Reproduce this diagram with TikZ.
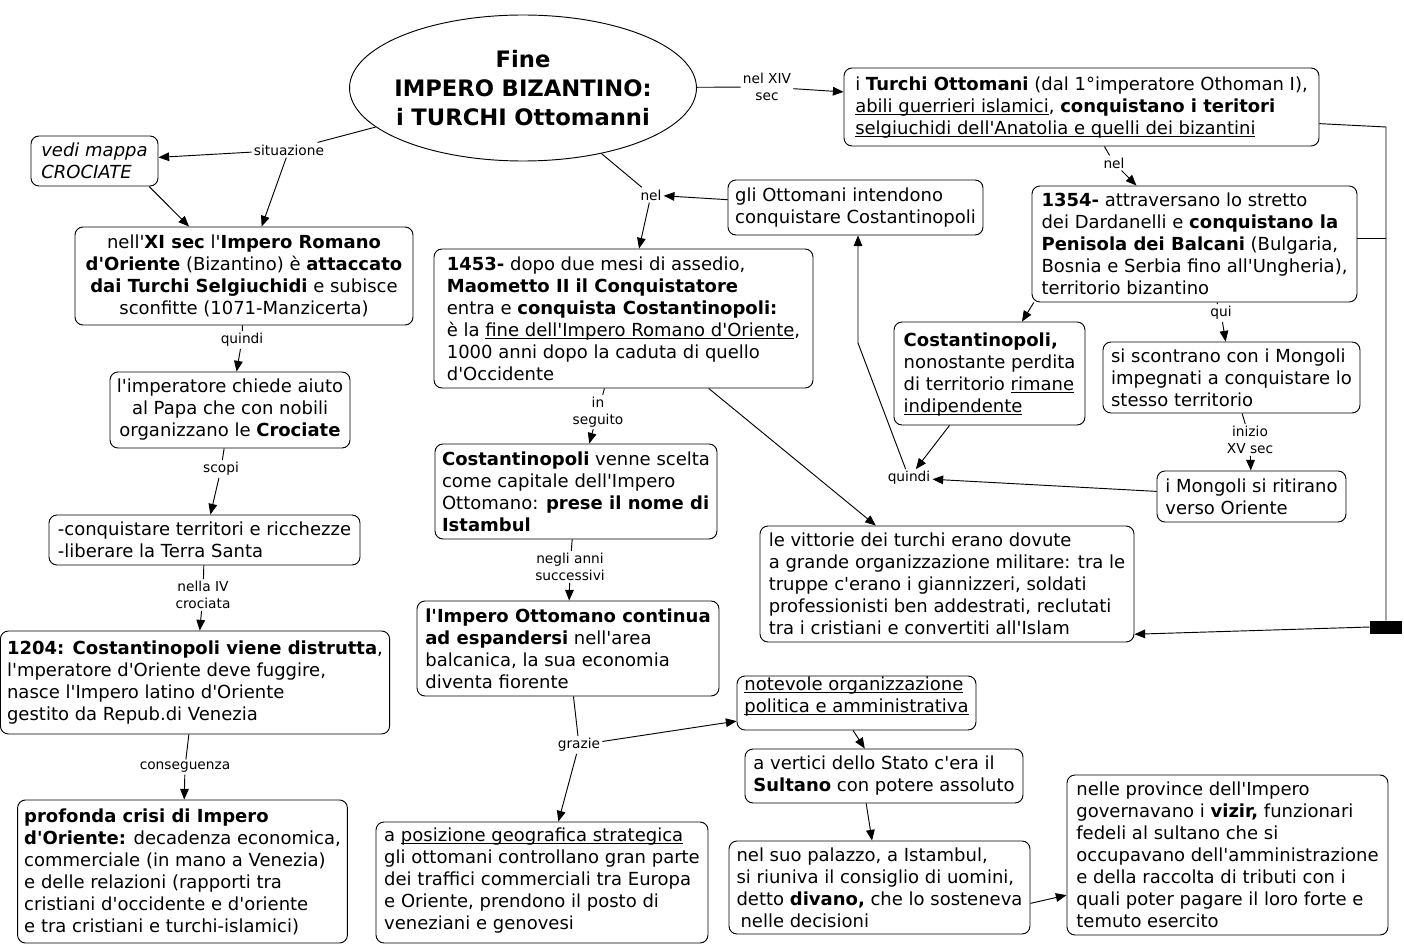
\documentclass[tikz,border=0pt]{standalone}
\usepackage{fontspec}
\newfontfamily\dv{DejaVu Sans}
\usetikzlibrary{shapes.geometric,arrows.meta}
\newcommand{\uln}[1]{\underline{\smash{#1}}}
\tikzset{
  box/.style={draw, rounded corners=6pt, inner xsep=5pt, inner ysep=2pt, align=left,
    font=\dv\fontsize{13.5}{16.5}\selectfont, line width=0.7pt},
  lab/.style={font=\dv\fontsize{10.3}{12.5}\selectfont, inner sep=1.5pt, align=center},
  arr/.style={-{Triangle[length=8pt,width=6.5pt]}, line width=0.7pt},
  ln/.style={line width=0.7pt},
}
\begin{document}
\begin{tikzpicture}[x=0.75pt,y=-0.75pt]
\useasboundingbox (0,0) rectangle (1404,945);
\fill[white] (0,0) rectangle (1404,945);

% title
\node[ellipse, draw, line width=0.7pt, minimum width=259.5pt, minimum height=109.5pt,
  inner xsep=-20pt, inner ysep=0pt,
  text width=224pt, align=center, font=\dv\bfseries\fontsize{17}{22}\selectfont] (title) at (523,88)
  {Fine\\IMPERO BIZANTINO:\\i TURCHI Ottomanni};

% boxes
\node[box, minimum width=95.25pt, minimum height=37.5pt] (crociate) at (94.5,161)
  {\itshape vedi mappa\\\itshape CROCIATE};
\node[box, align=center, minimum width=253.5pt, minimum height=73.5pt] (xisec) at (244,276)
  {nell'\textbf{XI sec} l'\textbf{Impero Romano}\\\textbf{d'Oriente} (Bizantino) è \textbf{attaccato}\\\textbf{dai Turchi Selgiuchidi} e subisce\\sconfitte (1071-Manzicerta)};
\node[box, align=center, minimum width=180pt, minimum height=57pt] (imperatore) at (230,410)
  {l'imperatore chiede aiuto\\al Papa che con nobili\\organizzano le \textbf{Crociate}};
\node[box, minimum width=233.25pt, minimum height=37.5pt] (conquistare) at (204.5,540)
  {-conquistare territori e ricchezze\\-liberare la Terra Santa};
\node[box, minimum width=289.5pt, minimum height=77.25pt] (b1204) at (195,682.5)
  {\textbf{1204: Costantinopoli viene distrutta},\\l'mperatore d'Oriente deve fuggire,\\nasce l'Impero latino d'Oriente\\gestito da Repub.di Venezia};
\node[box, minimum width=245.25pt, minimum height=107.25pt] (crisi) at (182.5,871.5)
  {\textbf{profonda crisi di Impero}\\\textbf{d'Oriente:} decadenza economica,\\commerciale (in mano a Venezia)\\e delle relazioni (rapporti tra\\cristiani d'occidente e d'oriente\\e tra cristiani e turchi-islamici)};
\node[box, minimum width=284.25pt, minimum height=104.25pt] (b1453) at (623.5,318.5)
  {\textbf{1453-} dopo due mesi di assedio,\\\textbf{Maometto II il Conquistatore}\\entra e \textbf{conquista Costantinopoli:}\\è la \uln{fine dell'Impero Romano d'Oriente},\\1000 anni dopo la caduta di quello\\d'Occidente};
\node[box, minimum width=211.5pt, minimum height=71.25pt] (scelta) at (576,491.5)
  {\textbf{Costantinopoli} venne scelta\\come capitale dell'Impero\\Ottomano: \textbf{prese il nome di}\\\textbf{Istambul}};
\node[box, minimum width=226.5pt, minimum height=71.25pt] (continua) at (568,648.5)
  {\textbf{l'Impero Ottomano continua}\\\textbf{ad espandersi} nell'area\\balcanica, la sua economia\\diventa fiorente};
\node[box, minimum width=249pt, minimum height=90.75pt] (posizione) at (542,882.5)
  {a \uln{posizione geografica strategica}\\gli ottomani controllano gran parte\\dei traffici commerciali tra Europa\\e Oriente, prendono il posto di\\veneziani e genovesi};
\node[box, minimum width=179.25pt, minimum height=40.5pt] (notevole) at (856.5,703)
  {\uln{notevole organizzazione}\\\uln{politica e amministrativa}};
\node[box, minimum width=208.5pt, minimum height=40.5pt] (vertici) at (884,776)
  {a vertici dello Stato c'era il\\\textbf{Sultano} con potere assoluto};
\node[box, minimum width=225.75pt, minimum height=69.75pt] (palazzo) at (879.5,887.5)
  {nel suo palazzo, a Istambul,\\si riuniva il consiglio di uomini,\\detto \textbf{divano,} che lo sosteneva\\\hspace*{3pt}nelle decisioni};
\node[box, minimum width=240.75pt, minimum height=120pt] (province) at (1227.5,855)
  {nelle province dell'Impero\\governavano i \textbf{vizir,} funzionari\\fedeli al sultano che si\\occupavano dell'amministrazione\\e della raccolta di tributi con i\\quali poter pagare il loro forte e\\temuto esercito};
\node[box, minimum width=280.5pt, minimum height=87pt] (vittorie) at (947,584)
  {le vittorie dei turchi erano dovute\\a grande organizzazione militare: tra le\\truppe c'erano i giannizzeri, soldati\\professionisti ben addestrati, reclutati\\tra i cristiani e convertiti all'Islam};
\node[box, minimum width=191.25pt, minimum height=41.25pt] (intendono) at (855.5,207.5)
  {gli Ottomani intendono\\conquistare Costantinopoli};
\node[box, minimum width=356.25pt, minimum height=58.5pt] (turchi) at (1081.5,107)
  {i \textbf{Turchi Ottomani} (dal 1°imperatore Othoman I),\\\uln{abili guerrieri islamici}, \textbf{conquistano i teritori}\\\uln{selgiuchidi dell'Anatolia e quelli dei bizantini}};
\node[box, minimum width=243.75pt, minimum height=87pt] (b1354) at (1194.5,244)
  {\textbf{1354-} attraversano lo stretto\\dei Dardanelli e \textbf{conquistano la}\\\textbf{Penisola dei Balcani} (Bulgaria,\\Bosnia e Serbia fino all'Ungheria),\\territorio bizantino};
\node[box, minimum width=143.25pt, minimum height=77.25pt] (indip) at (989.5,373.5)
  {\textbf{Costantinopoli,}\\nonostante perdita\\di territorio \uln{rimane}\\\uln{indipendente}};
\node[box, minimum width=192.75pt, minimum height=53.25pt] (scontrano) at (1231.5,377.5)
  {si scontrano con i Mongoli\\impegnati a conquistare lo\\stesso territorio};
\node[box, minimum width=141.75pt, minimum height=38.25pt] (mongoli) at (1251.5,496.5)
  {i Mongoli si ritirano\\verso Oriente};

% join bar
\node[fill=black, draw=black, minimum width=23.25pt, minimum height=9pt, inner sep=0pt] (bar) at (1385.5,627) {};

% labels
\node[lab] (situazione) at (289,150) {situazione};
\node[lab] (nelXIV) at (767,87) {nel XIV\\sec};
\node[lab] (nelA) at (651,195) {nel};
\node[lab] (nelB) at (1114,163) {nel};
\node[lab] (qui) at (1221,313) {qui};
\node[lab] (inizio) at (1250,440) {inizio\\XV sec};
\node[lab] (quindiR) at (909,478) {quindi};
\node[lab] (inseguito) at (598,412) {in\\seguito};
\node[lab] (neglianni) at (570,567) {negli anni\\successivi};
\node[lab] (grazie) at (579,745) {grazie};
\node[lab] (quindiL) at (242,340) {quindi};
\node[lab] (scopi) at (221,469) {scopi};
\node[lab] (nellaIV) at (203,595) {nella IV\\crociata};
\node[lab] (conseguenza) at (185,767) {conseguenza};

\coordinate (bendR) at (858,343);
\coordinate (jtop) at (1386,127);

% connectors
\draw[ln] (title) -- (situazione);
\draw[arr] (situazione) -- (crociate);
\draw[arr] (situazione) -- (xisec);
\draw[arr] (crociate.-25) -- (xisec.138);
\draw[ln] (title) -- (nelXIV);
\draw[arr] (nelXIV) -- (turchi);
\draw[ln] (title) -- (nelA);
\draw[arr] (nelA) -- (b1453);
\draw[arr] (intendono) -- (nelA);
\draw[ln] (turchi) -- (nelB);
\draw[arr] (nelB) -- (b1354);
\draw[ln] (b1354) -- (qui);
\draw[arr] (qui) -- (scontrano);
\draw[arr] (b1354.200) -- (indip.58);
\draw[ln] (scontrano) -- (inizio);
\draw[arr] (inizio) -- (mongoli);
\draw[arr] (indip) -- (quindiR);
\draw[arr] (mongoli) -- (quindiR);
\draw[arr] (quindiR) -- (bendR) -- (bendR |- intendono.south);
\draw[ln] (b1453) -- (inseguito);
\draw[arr] (inseguito) -- (scelta);
\draw[arr] (b1453) -- (vittorie);
\draw[ln] (scelta) -- (neglianni);
\draw[arr] (neglianni) -- (continua);
\draw[ln] (continua) -- (grazie);
\draw[arr] (grazie) -- (notevole);
\draw[arr] (grazie) -- (posizione);
\draw[arr] (notevole.-97) -- (vertici.125);
\draw[arr] (vertici.-123) -- (palazzo.99);
\draw[arr] (palazzo.-6.6) -- (province.194.3);
\draw[ln] (xisec) -- (quindiL);
\draw[arr] (quindiL) -- (imperatore);
\draw[ln] (imperatore) -- (scopi);
\draw[arr] (scopi) -- (conquistare);
\draw[ln] (conquistare) -- (nellaIV);
\draw[arr] (nellaIV) -- (b1204);
\draw[ln] (b1204) -- (conseguenza);
\draw[arr] (conseguenza) -- (crisi);
% join
\draw[ln] (turchi.-4) -- (jtop) -- (jtop |- bar.north);
\draw[ln] (b1354.2) -- (b1354.2 -| jtop);
\draw[arr] (bar.west) -- (vittorie.-15.5);
\end{tikzpicture}
\end{document}
